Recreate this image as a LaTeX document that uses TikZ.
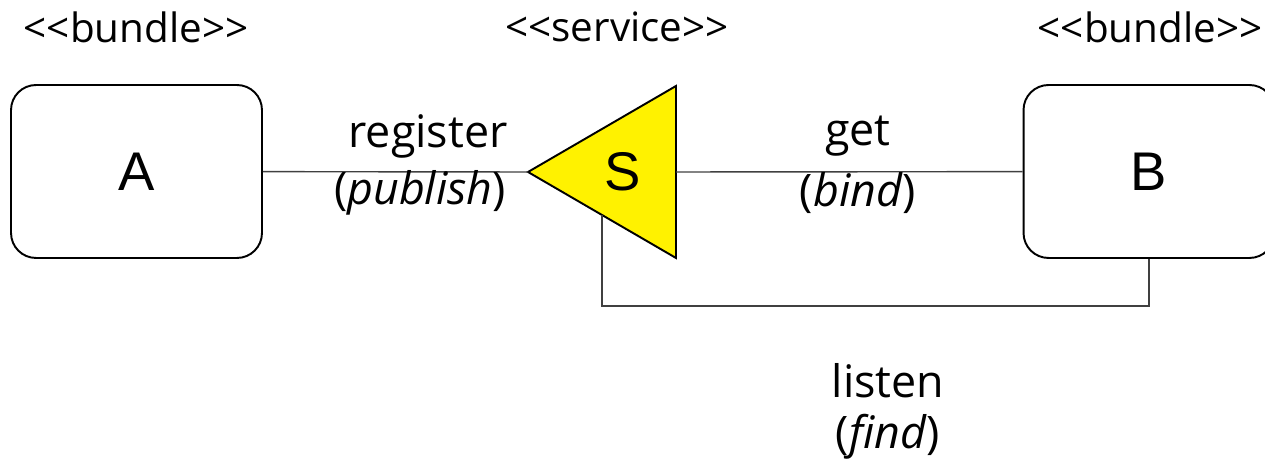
\documentclass[tikz,border=0pt]{standalone}
\usepackage{fontspec}
\setmainfont{Open Sans}
\newfontfamily\boxfont{Liberation Sans}
\usetikzlibrary{calc}
\newcommand{\stereo}[1]{<\kern0pt<#1>\kern0pt>}
\tikzset{
  bundlebox/.style={draw, line width=1.1pt, rounded corners=0.5cm, minimum width=5.02cm, minimum height=3.46cm, font=\boxfont\fontsize{31}{36}\selectfont},
  wire/.style={draw=black!75, line width=0.8pt},
  lbl/.style={font=\fontsize{23}{27}\selectfont, inner sep=0pt},
  wirelbl/.style={font=\fontsize{25.5}{30}\selectfont, inner sep=0pt},
}

\begin{document}
\begin{tikzpicture}[x=0.02cm, y=0.02cm]
        \useasboundingbox (0,0) rectangle (1265,472);
        \node[bundlebox] (A) at (136.5,300.5) {A};
        \node[bundlebox] (B) at (1149,300.5) {B};
        \coordinate (S-tip) at (528,300);
        \coordinate (S-top) at (676,386);
        \coordinate (S-bot) at (676,214);
        \coordinate (S-back) at (676,300);
        \coordinate (S-low) at ($(S-tip)!0.5!(S-bot)$);
        \coordinate (loop) at (0,166);
        \filldraw[fill=yellow, line width=1.1pt] (S-tip) -- (S-top) -- (S-bot) -- cycle;
        \node[font=\boxfont\fontsize{31}{36}\selectfont] (S) at (623,300) {S};
        \draw[wire] (A) -- (S-tip);
        \draw[wire] (S-back) -- (B);
        \draw[wire] (S-low) |- (loop -| B.south) -- (B.south);
        \node[wirelbl] (reg) at (428,336) {register};
        \node[wirelbl] (pub) at (420,279) {(\textit{publish})};
        \node[wirelbl] (get) at (858,336) {get};
        \node[wirelbl] (bind) at (858,279) {(\textit{bind})};
        \node[wirelbl] (listen) at (888,91) {listen};
        \node[wirelbl] (find) at (888,35) {(\textit{find})};
        \node[lbl] (stA) at (136,445) {\stereo{bundle}};
        \node[lbl] (stS) at (617,445) {\stereo{service}};
        \node[lbl] (stB) at (1150,445) {\stereo{bundle}};
    \end{tikzpicture}
\end{document}
